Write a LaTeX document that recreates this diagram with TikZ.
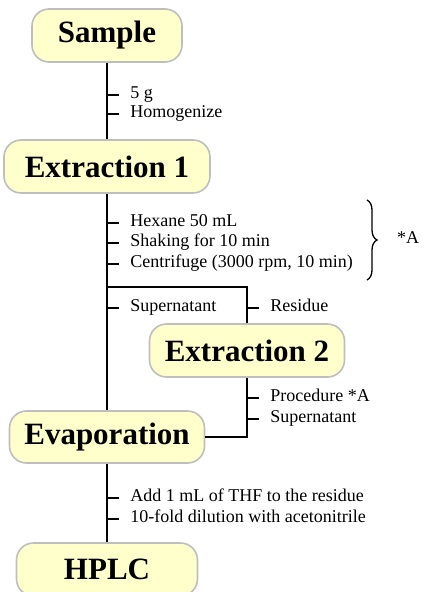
\documentclass[tikz,border=0pt]{standalone}
\usepackage{fontspec}
\setmainfont{Liberation Serif}
\usetikzlibrary{decorations.pathreplacing}
\definecolor{boxfill}{RGB}{255,255,204}
\definecolor{boxline}{RGB}{190,190,190}
\tikzset{
  stage/.style={draw=boxline, line width=1.6pt, fill=boxfill, rounded corners=17pt,
    inner sep=0pt, font=\bfseries\fontsize{31}{36}\selectfont},
  note/.style={inner xsep=11pt, inner ysep=0pt, font=\fontsize{18}{20}\selectfont,
    text height=0.78em, text depth=0pt},
  flow/.style={line width=1.6pt}
}
\newcommand{\steptick}[4]{% {name}{x}{y}{text}
	\draw[flow] (#2,#3) -- ++(11.5,0) node[note, anchor=west, inner xsep=11pt] (#1) {#4};
}

\begin{document}
\begin{tikzpicture}[x=1pt,y=-1pt]
	\useasboundingbox (0,0) rectangle (422,592);

	\node[stage, minimum width=150pt, minimum height=53pt] (sample) at (107,35.5) {Sample};
	\node[stage, minimum width=206pt, minimum height=53pt] (ext1) at (107,166.5) {Extraction 1};
	\node[stage, minimum width=195pt, minimum height=53pt] (ext2) at (247,350.5) {Extraction 2};
	\node[stage, minimum width=195pt, minimum height=52pt] (evap) at (107,437) {Evaporation};
	\node[stage, minimum width=181pt, minimum height=53pt] (hplc) at (107,569.5) {HPLC};

	\coordinate (split) at (107,287);
	\draw[flow] (sample) -- (ext1);
	\draw[flow] (ext1) -- (evap);
	\draw[flow] (evap) -- (hplc);
	\draw[flow] (split) -| (ext2.north);
	\draw[flow] (ext2.south) |- (evap.east);

	\steptick{amount}{107}{95}{5 g}
	\steptick{homog}{107}{114}{Homogenize}
	\steptick{hexane}{107}{223}{Hexane 50 mL}
	\steptick{shake}{107}{243}{Shaking for 10 min}
	\steptick{centri}{107}{264}{Centrifuge (3000 rpm, 10 min)}
	\steptick{super1}{107}{308}{Supernatant}
	\steptick{residue}{247}{308}{Residue}
	\steptick{procA}{247}{398}{Procedure *A}
	\steptick{super2}{247}{419}{Supernatant}
	\steptick{thf}{107}{498}{Add 1 mL of THF to the residue}
	\steptick{dilute}{107}{519}{10-fold dilution with acetonitrile}

	% brace over the extraction steps
	\coordinate (braceTop) at (367,200);
	\coordinate (braceBot) at (367,280);
	\draw[flow, line width=1.3pt, decorate, decoration={brace, amplitude=10pt}] (braceTop) -- (braceBot);
	\node[note, anchor=west] (tagA) at (386,240) {*A};
\end{tikzpicture}
\end{document}
